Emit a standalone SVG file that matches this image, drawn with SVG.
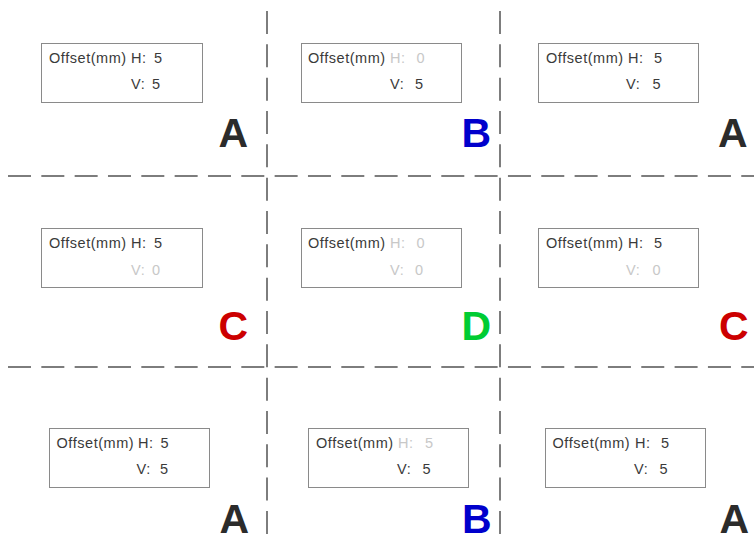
<svg xmlns="http://www.w3.org/2000/svg" width="754" height="540" viewBox="0 0 754 540">
<style>
.bg{fill:#ffffff}
.grid line{stroke:#7d7d7d;stroke-width:2;stroke-dasharray:23 10.33}
.box{fill:#ffffff;stroke:#8a8a8a;stroke-width:1}
.t{font-family:"Liberation Sans",Arial,sans-serif;font-size:14.5px;letter-spacing:0.55px;fill:#3a3a3a}
.off{fill:#c8c8c8}
.big{font-family:"Liberation Sans",Arial,sans-serif;font-size:41px;font-weight:bold;text-anchor:end}
.a{fill:#2b2b2b}.b{fill:#0000cc}.c{fill:#cc0000}.d{fill:#00cc33}
</style>
<rect class="bg" x="0" y="0" width="754" height="540"/>
<g id="connectors" class="grid">
<line x1="8" y1="176" x2="754" y2="176"/>
<line x1="8" y1="367" x2="754" y2="367"/>
<line x1="267" y1="11" x2="267" y2="535"/>
<line x1="500" y1="11" x2="500" y2="535"/>
</g>
<g id="n1"><rect class="box" x="41.5" y="43.5" width="161" height="59"/>
<text class="t" x="49" y="63">Offset(mm)</text><text class="t" x="131" y="63">H:</text><text class="t" x="154" y="63">5</text>
<text class="t" x="131" y="89">V:</text><text class="t" x="152" y="89">5</text>
<text class="big a" x="248" y="147">A</text></g>
<g id="n2"><rect class="box" x="301.5" y="43.5" width="160" height="59"/>
<text class="t" x="308" y="63">Offset(mm)</text><text class="t off" x="390" y="63">H:</text><text class="t off" x="416.5" y="63">0</text>
<text class="t" x="390" y="89">V:</text><text class="t" x="415" y="89">5</text>
<text class="big b" x="491" y="147">B</text></g>
<g id="n3"><rect class="box" x="538.5" y="43.5" width="160" height="59"/>
<text class="t" x="546" y="63">Offset(mm)</text><text class="t" x="628" y="63">H:</text><text class="t" x="654" y="63">5</text>
<text class="t" x="626" y="89">V:</text><text class="t" x="652.5" y="89">5</text>
<text class="big a" x="747.5" y="147">A</text></g>
<g id="n4"><rect class="box" x="41.5" y="228.5" width="161" height="59"/>
<text class="t" x="49" y="248">Offset(mm)</text><text class="t" x="131" y="248">H:</text><text class="t" x="154" y="248">5</text>
<text class="t off" x="131" y="275">V:</text><text class="t off" x="152" y="275">0</text>
<text class="big c" x="248" y="340">C</text></g>
<g id="n5"><rect class="box" x="301.5" y="228.5" width="160" height="59"/>
<text class="t" x="308" y="248">Offset(mm)</text><text class="t off" x="390" y="248">H:</text><text class="t off" x="416.5" y="248">0</text>
<text class="t off" x="390" y="275">V:</text><text class="t off" x="415" y="275">0</text>
<text class="big d" x="491" y="340">D</text></g>
<g id="n6"><rect class="box" x="538.5" y="228.5" width="160" height="59"/>
<text class="t" x="546" y="248">Offset(mm)</text><text class="t" x="628" y="248">H:</text><text class="t" x="654" y="248">5</text>
<text class="t off" x="626" y="275">V:</text><text class="t off" x="652.5" y="275">0</text>
<text class="big c" x="748.5" y="340">C</text></g>
<g id="n7"><rect class="box" x="49.5" y="428.5" width="160" height="59"/>
<text class="t" x="56.5" y="448">Offset(mm)</text><text class="t" x="138" y="448">H:</text><text class="t" x="160.5" y="448">5</text>
<text class="t" x="136.5" y="474">V:</text><text class="t" x="160" y="474">5</text>
<text class="big a" x="249" y="533">A</text></g>
<g id="n8"><rect class="box" x="308.5" y="428.5" width="160" height="59"/>
<text class="t" x="316" y="448">Offset(mm)</text><text class="t off" x="398" y="448">H:</text><text class="t off" x="425" y="448">5</text>
<text class="t" x="397" y="474">V:</text><text class="t" x="422.5" y="474">5</text>
<text class="big b" x="491.5" y="533">B</text></g>
<g id="n9"><rect class="box" x="545.5" y="428.5" width="160" height="59"/>
<text class="t" x="552.5" y="448">Offset(mm)</text><text class="t" x="635" y="448">H:</text><text class="t" x="661" y="448">5</text>
<text class="t" x="634" y="474">V:</text><text class="t" x="659.5" y="474">5</text>
<text class="big a" x="749" y="533">A</text></g>
</svg>
